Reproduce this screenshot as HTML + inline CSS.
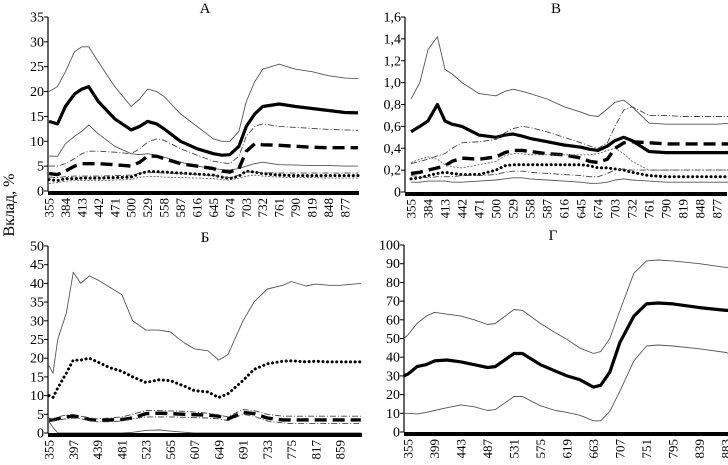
<!DOCTYPE html>
<html><head><meta charset="utf-8">
<style>
html,body{margin:0;padding:0;background:#fff;}
svg, svg text{font-family:"Liberation Serif","Times New Roman","DejaVu Serif",serif;}
</style></head>
<body>
<svg id="fig" width="728" height="460" viewBox="0 0 728 460" font-family="Liberation Serif, serif">
<text x="14" y="205" font-size="16" font-family="Liberation Serif, serif" text-anchor="middle" transform="rotate(-90 14 205)">Вклад, %</text>
</svg>
<script>
// ---------- data ----------
const nodesAB = [355,370,384,400,413,425,442,471,500,515,529,545,558,587,616,645,660,674,690,703,718,732,761,790,819,848,877,900];
const ticksA = [355,384,413,442,471,500,529,558,587,616,645,674,703,732,761,790,819,848,877];
const yTicksA = [0,5,10,15,20,25,30,35];
const seriesA = [
 [20,21,24,28,29,29,26,21,17,18.5,20.5,20,19,15.5,13,10.5,10,10,12,18,22,24.5,25.5,24.5,24,23.2,22.7,22.6],
 [14,13.5,17,19.5,20.5,21,18,14.5,12.3,13,14,13.5,12.5,10,8.5,7.5,7.2,7.3,9,13,15.5,17,17.5,17,16.6,16.2,15.8,15.7],
 [5,5,5.5,6.5,7.5,8,8,7.8,7.5,8.5,9.8,10.5,10.2,8.5,7.2,6,5.7,5.5,7,11,13,13.5,13,12.8,12.6,12.4,12.3,12.2],
 [7,7,9.5,11,12,13.3,11.5,9,7.5,7.3,7.5,7.2,6.8,5.8,5,4.5,4.3,4.2,4.5,5,5.5,5.8,5.3,5.2,5.1,5.1,5.0,5.0],
 [3.5,3.3,4,5,5.5,5.5,5.5,5.3,5,5.8,7,7,6.5,5.5,5,4.5,4,3.8,4.5,8,9.5,9.3,9.2,9,8.8,8.7,8.7,8.7],
 [2.3,2.1,2.5,2.5,2.6,2.6,2.6,2.7,2.8,3.5,3.9,3.9,3.8,3.6,3.4,3.2,2.8,2.5,3,4,3.8,3.5,3.2,3.1,3.1,3.1,3.1,3.1],
 [2.8,2.7,2.9,3,3,3,3,3.1,3.2,3.6,3.7,3.7,3.6,3.5,3.3,3.1,2.9,2.7,3.2,3.8,3.8,3.7,3.6,3.6,3.6,3.6,3.6,3.6],
 [1.5,1.7,2,2.1,2.1,2.1,2.1,2.2,2.3,2.8,2.9,2.9,2.8,2.7,2.6,2.5,2.3,2.2,2.6,3,3.2,3,2.8,2.7,2.7,2.6,2.6,2.6]
];
const yTicksB = [0,0.2,0.4,0.6,0.8,1.0,1.2,1.4,1.6];
const seriesB = [
 [0.85,1.0,1.3,1.42,1.12,1.08,1.0,0.9,0.88,0.92,0.94,0.92,0.9,0.85,0.78,0.73,0.7,0.69,0.76,0.82,0.84,0.78,0.63,0.62,0.62,0.62,0.62,0.63],
 [0.55,0.6,0.65,0.8,0.65,0.62,0.6,0.52,0.5,0.52,0.53,0.51,0.49,0.46,0.43,0.41,0.39,0.38,0.42,0.47,0.5,0.47,0.37,0.36,0.36,0.36,0.36,0.36],
 [0.26,0.28,0.3,0.33,0.35,0.4,0.45,0.46,0.48,0.54,0.58,0.6,0.59,0.55,0.5,0.45,0.42,0.4,0.45,0.6,0.75,0.78,0.7,0.7,0.69,0.69,0.69,0.69],
 [0.17,0.18,0.2,0.22,0.24,0.28,0.31,0.3,0.32,0.36,0.38,0.38,0.37,0.35,0.34,0.31,0.28,0.27,0.3,0.4,0.45,0.46,0.45,0.44,0.44,0.44,0.44,0.44],
 [0.12,0.13,0.15,0.17,0.18,0.17,0.16,0.16,0.2,0.24,0.25,0.25,0.25,0.25,0.25,0.25,0.24,0.22,0.22,0.21,0.2,0.18,0.15,0.14,0.14,0.14,0.14,0.14],
 [0.27,0.3,0.32,0.3,0.25,0.23,0.22,0.25,0.28,0.33,0.35,0.35,0.34,0.34,0.34,0.34,0.34,0.35,0.38,0.4,0.35,0.28,0.2,0.2,0.2,0.2,0.2,0.2],
 [0.15,0.14,0.13,0.14,0.14,0.14,0.15,0.15,0.16,0.18,0.19,0.19,0.18,0.17,0.16,0.15,0.14,0.14,0.17,0.2,0.21,0.2,0.2,0.2,0.2,0.2,0.2,0.2],
 [0.09,0.09,0.1,0.1,0.1,0.09,0.09,0.1,0.11,0.12,0.13,0.13,0.12,0.11,0.1,0.09,0.08,0.08,0.09,0.11,0.12,0.11,0.1,0.09,0.09,0.09,0.09,0.09]
];
const nodesC = [355,362,370,385,397,410,425,439,460,481,500,523,545,565,590,607,630,649,665,691,710,733,760,775,800,817,840,859,895];
const ticksC = [355,397,439,481,523,565,607,649,691,733,775,817,859];
const yTicksC = [0,5,10,15,20,25,30,35,40,45,50];
const seriesC = [
 [18,16,25,32,43,40,42,41,39,37,30,27.5,27.5,27,24,22.5,22,19.5,21,30,35,38.5,39.5,40.5,39.3,39.8,39.5,39.5,40],
 [10,9.5,12,16,19.5,19.5,20,19,17.5,16.5,15,13.5,14.2,14,12.5,11.3,11,9.5,10.5,14,17,18.5,19.2,19.3,19,19.2,19,19,19],
 [3.5,3.5,3.8,4.3,4.5,4.3,3.6,3.4,3.5,3.6,4,5.2,5.3,5.2,5,4.9,4.8,4.5,3.8,5.5,5.2,4,3.5,3.5,3.5,3.5,3.5,3.5,3.5],
 [3.5,3.8,4.3,4.8,5,4.5,4,3.8,4,4.3,5,6,6,5.9,5.8,5.6,5.3,4.8,4.3,6.3,6,5,4.5,4.5,4.5,4.5,4.5,4.5,4.5],
 [3,3.2,3.5,3.8,4,3.8,3.3,3,3,3.2,3.8,4.3,4.3,4.3,4.2,4.1,4,3.8,3.3,5,4.5,3.2,2.7,2.5,2.5,2.5,2.5,2.5,2.5],
 [3,1.5,0,0,0,0,0,0,0,0,0.2,0.7,0.8,0.5,0.2,0,0,0,0,0,0,0,0,0,0,0,0,0,0]
];
const nodesD = [348,355,370,385,399,420,443,465,487,500,531,545,575,600,619,640,663,675,690,707,730,751,770,795,839,883,888];
const ticksD = [355,399,443,487,531,575,619,663,707,751,795,839,883];
const yTicksD = [0,10,20,30,40,50,60,70,80,90,100];
const seriesD = [
 [50,52,58,62,64,63,62,60,57.5,58,65.5,65,58,53,49.5,45,42,43,50,65,85,91.5,92,91.5,90,88,88],
 [30,31,35,36,38,38.5,37.5,36,34.5,35,42,42,36,32.5,30,28,24,25,32,48,62,68.5,69,68.5,66.5,65,65],
 [10,10,9.7,10.5,11.5,13,14.5,13.5,11.5,12,19,19,14,11.5,10.5,9,6,6,11,22,38,46,46.5,46,44.5,42.5,42]
];

// ---------- styles ----------
const TH={w:0.9,c:'#555',d:''}, BK={w:3.2,c:'#000',d:''}, DD={w:0.9,c:'#444',d:'6 2 1 2'},
      DS={w:3.4,c:'#000',d:'12 6'}, DT={w:3,c:'#000',d:'0.1 4.5',cap:'round'}, LD={w:0.9,c:'#666',d:'2 1.5'};
const stylesA=[TH,BK,DD,TH,DS,DT,DD,LD];
const stylesB=[TH,BK,DD,DS,DT,LD,DD,TH];
const stylesC=[TH,DT,DS,DD,DD,TH];
const stylesD=[TH,BK,TH];

const svg=document.getElementById('fig');
const NS='http://www.w3.org/2000/svg';
const FF='Liberation Serif, Times New Roman, serif';
function mk(tag,attrs,parent){const e=document.createElementNS(NS,tag);for(const k in attrs)e.setAttribute(k,attrs[k]);(parent||svg).appendChild(e);return e;}

function panel(p){
  const g=mk('g',{});
  
  
  const xs=nm=>p.x0+(nm-p.nm0)*p.pxPerNm;
  const ys=v=>p.yb-(v/p.ymax)*(p.yb-p.yt);
  const t=mk('text',{x:p.tx,y:p.ty,'font-size':15,'font-family':FF,'text-anchor':'middle'},g);t.textContent=p.title;
  
  
  const ya=mk('line',{x1:p.ax,y1:p.yt,x2:p.ax,y2:p.yb,stroke:'#000','stroke-width':1.2},g);
  
  
  p.yTicks.forEach(v=>{
    const y=ys(v);
    mk('line',{x1:p.ax-4,y1:y,x2:p.ax,y2:y,stroke:'#000','stroke-width':1},g);
    const l=mk('text',{x:p.ax-4,y:y+4.5,'font-size':14,'font-family':FF,'text-anchor':'end'},g);
    l.textContent=p.fmt?p.fmt(v):String(v);
    
    
  });
  p.series.forEach((s,i)=>{
    const st=p.styles[i];
    const d=s.map((v,j)=>(j?'L':'M')+xs(p.nodes[j]).toFixed(1)+' '+ys(v).toFixed(1)).join(' ');
    const path=mk('path',{d:d,fill:'none',stroke:st.c,'stroke-width':st.w,'stroke-dasharray':st.d,'stroke-linecap':st.cap||'butt','stroke-linejoin':'round'},g);
    
    
  });
  const xa=mk('rect',{x:p.ax,y:p.yb,width:p.xEnd-p.ax,height:4,fill:'#000'},g);
  
  
  p.xTicks.forEach(nm=>{
    const x=xs(nm);
    const l=mk('text',{x:x+4.5,y:p.yb+7,'font-size':13,'font-family':FF,'text-anchor':'end',transform:`rotate(-90 ${x+4.5} ${p.yb+7})`},g);
    l.textContent=nm;
    
    
  });
}
const comma=v=>v===0?'0':v.toFixed(1).replace('.',',');
panel({name:'panel-a',title:'А',tx:205,ty:13,x0:49,nm0:355,pxPerNm:16.44/29,ax:48,xEnd:359,yt:17,yb:191,ymax:35,yTicks:yTicksA,xTicks:ticksA,nodes:nodesAB,series:seriesA,styles:stylesA});
panel({name:'panel-b',title:'В',tx:556,ty:13,x0:411,nm0:355,pxPerNm:17/29,ax:405,xEnd:727,yt:17,yb:192,ymax:1.6,yTicks:yTicksB,xTicks:ticksA,nodes:nodesAB,series:seriesB,styles:stylesB,fmt:comma});
panel({name:'panel-b-cyr',title:'Б',tx:205,ty:242,x0:49,nm0:355,pxPerNm:24.25/42,ax:48,xEnd:362,yt:246,yb:433,ymax:50,yTicks:yTicksC,xTicks:ticksC,nodes:nodesC,series:seriesC,styles:stylesC});
panel({name:'panel-g',title:'Г',tx:553,ty:240,x0:408,nm0:355,pxPerNm:26.5/44,ax:404,xEnd:728,yt:245,yb:432,ymax:100,yTicks:yTicksD,xTicks:ticksD,nodes:nodesD,series:seriesD,styles:stylesD});
</script>
</body></html>
